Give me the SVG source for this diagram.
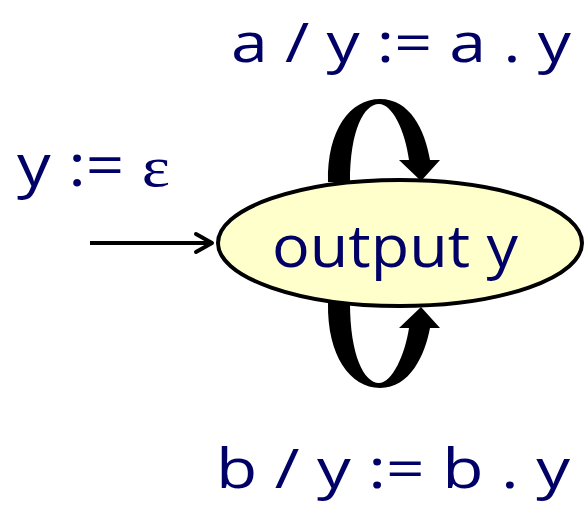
<svg xmlns="http://www.w3.org/2000/svg" width="585" height="506" viewBox="0 0 585 506">
<style>
.lbl{font-family:"Comic Sans MS","Open Sans","DejaVu Sans",sans-serif;fill:#000066;font-size:58px}
.edge{font-size:55px}
.eps{font-family:"Liberation Serif",serif}
.loop{fill:#000}
</style>
<defs>
<marker id="ah" markerWidth="24" markerHeight="24" refX="20" refY="12" orient="auto" markerUnits="userSpaceOnUse">
<path d="M4,3 L20,12 L4,21" fill="none" stroke="#000" stroke-width="4" stroke-linecap="round" stroke-linejoin="round"/>
</marker>
</defs>
<g id="connectors">
<line x1="90" y1="243" x2="212" y2="243" stroke="#000" stroke-width="4" marker-end="url(#ah)"/>
<path class="loop" d="M328,182 C327,130 350,99 380,99 C410,99 425,130 430,160 L440,160 L421,181 L399,160 L409,160 C405,130 392,104 379,104 C364,104 350,130 350,182 Z"/>
<path class="loop" d="M328,303 C327,355 350,388 380,388 C410,388 425,355 430,328 L440,328 L421,307 L399,328 L409,328 C405,355 392,383 379,383 C364,383 350,355 350,303 Z"/>
</g>
<g id="node-output">
<ellipse cx="400" cy="243" rx="182" ry="63" fill="#ffffcc" stroke="#000" stroke-width="4"/>
<text class="lbl" x="272" y="267" textLength="246" lengthAdjust="spacingAndGlyphs">output y</text>
</g>
<text class="lbl edge" x="231" y="62" textLength="340" lengthAdjust="spacingAndGlyphs">a / y := a . y</text>
<text class="lbl" x="17" y="186" textLength="153" lengthAdjust="spacingAndGlyphs">y := <tspan class="eps">ε</tspan></text>
<text class="lbl edge" x="216" y="488" textLength="354" lengthAdjust="spacingAndGlyphs">b / y := b . y</text>
</svg>
